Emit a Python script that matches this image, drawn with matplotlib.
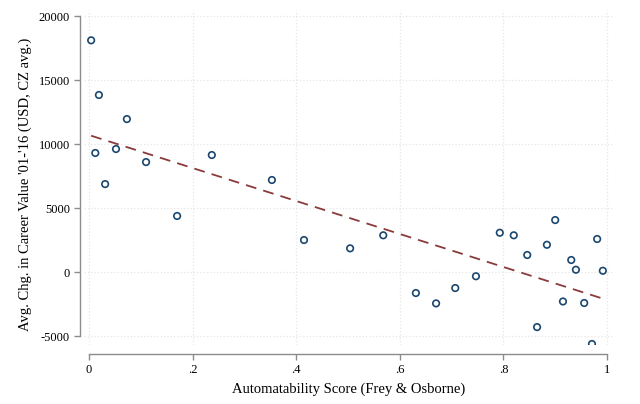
"""Career value change vs automatability score (Stata-like scatter with linear fit)."""
import matplotlib
matplotlib.use("Agg")
import matplotlib.pyplot as plt
import numpy as np

# automatability score (Frey & Osborne) per occupation group
score = [0.004, 0.019, 0.012, 0.031, 0.052, 0.073, 0.110, 0.170, 0.237, 0.353,
         0.415, 0.504, 0.568, 0.631, 0.670, 0.707, 0.747, 0.793, 0.820, 0.846,
         0.865, 0.884, 0.900, 0.915, 0.931, 0.940, 0.956, 0.971, 0.981, 0.992]
# avg. change in career value, USD
chg = [18100, 13830, 9300, 6870, 9610, 11950, 8590, 4380, 9140, 7190,
       2500, 1850, 2870, -1640, -2450, -1250, -330, 3070, 2870, 1330,
       -4300, 2130, 4060, -2300, 940, 180, -2420, -5620, 2580, 100]
# linear fit
fit_icpt = 10700
fit_slope = -12880

xticks = [0, 0.2, 0.4, 0.6, 0.8, 1.0]
xticklabels = ["0", ".2", ".4", ".6", ".8", "1"]
yticks = [-5000, 0, 5000, 10000, 15000, 20000]

plt.rcParams["font.family"] = ["Liberation Serif", "DejaVu Serif"]
plt.rcParams["axes.unicode_minus"] = False

fig = plt.figure(figsize=(6.4, 4.04), dpi=100)
ax = fig.add_axes([84 / 640, 59 / 404, 529 / 640, 335 / 404])

ax.scatter(score, chg, s=22, facecolors="none", edgecolors="#1a476f", linewidths=1.2, zorder=3)
xs = np.array([min(score), max(score)])
ax.plot(xs, fit_icpt + fit_slope * xs, ls=(0, (6, 4)), color="#8b3a3a", lw=1.3, zorder=2)

ax.set_xlim(-0.0098, 1.0116)
ax.set_ylim(-5700, 20470)
ax.set_xticks(xticks)
ax.set_xticklabels(xticklabels)
ax.set_yticks(yticks)
ax.grid(True, color="#e6e6e6", ls=":", lw=0.9)

for s in ("top", "right"):
    ax.spines[s].set_visible(False)
ax.spines["left"].set_position(("outward", 3))
ax.spines["bottom"].set_position(("outward", 6.5))
ax.spines["left"].set_bounds(-5000, 20000)
ax.spines["bottom"].set_bounds(0, 1)
for s in ("left", "bottom"):
    ax.spines[s].set_color("#8c8c8c")
    ax.spines[s].set_linewidth(1.0)
ax.tick_params(colors="#8c8c8c", labelcolor="black", length=4.5, width=1.0, labelsize=9, pad=2.5)

ax.set_xlabel("Automatability Score (Frey & Osborne)", fontsize=10.5, labelpad=5)
ax.set_ylabel("Avg. Chg. in Career Value '01-'16 (USD, CZ avg.)", fontsize=10.5)
ax.yaxis.set_label_coords(-0.098, 0.48)

fig.savefig("out.png", dpi=100, facecolor="white")
